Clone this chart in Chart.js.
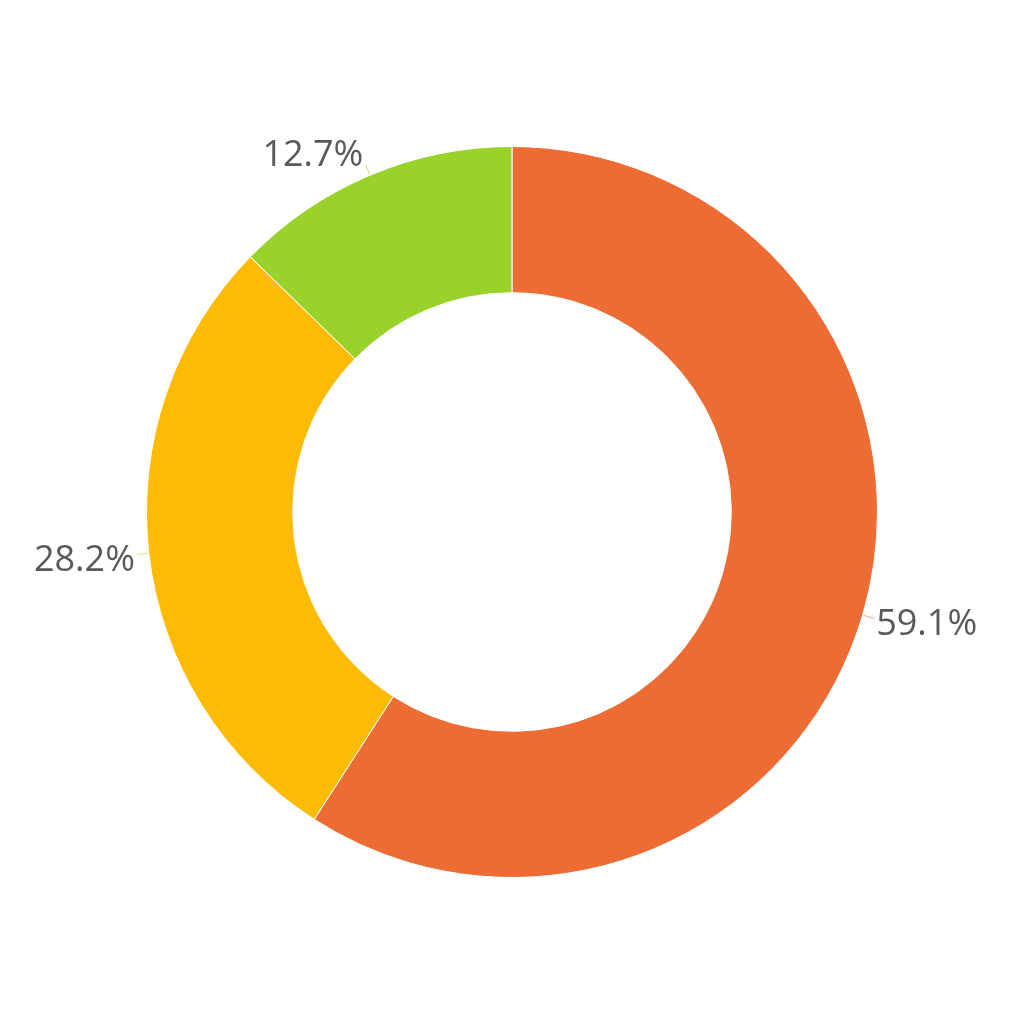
<!DOCTYPE html>
<html>
<head>
<meta charset="utf-8">
<script src="https://cdn.jsdelivr.net/npm/chart.js@4/dist/chart.umd.min.js"></script>
<style>
  body { margin: 0; background: #fff; }
</style>
</head>
<body>
<canvas id="donutChart" width="1024" height="1024"></canvas>
<script>
// Chart data
const sliceLabels = ['A', 'B', 'C'];
const sliceValues = [59.1, 28.2, 12.7];
const sliceColors = ['#ED6C34', '#FDBB06', '#98D22B'];

// Outside labels with short leader lines
const outsideLabels = {
    id: 'outsideLabels',
    afterDatasetsDraw(chart) {
        const ctx = chart.ctx;
        const meta = chart.getDatasetMeta(0);
        ctx.save();
        ctx.font = '36px "Open Sans", sans-serif';
        ctx.fillStyle = '#595959';
        ctx.textBaseline = 'middle';
        meta.data.forEach((arc, i) => {
            const p = arc.getProps(['x', 'y', 'startAngle', 'endAngle', 'outerRadius'], true);
            const mid = (p.startAngle + p.endAngle) / 2;
            const cos = Math.cos(mid), sin = Math.sin(mid);
            const x1 = p.x + cos * (p.outerRadius + 1);
            const y1 = p.y + sin * (p.outerRadius + 1);
            const x2 = p.x + cos * (p.outerRadius + 12);
            const y2 = p.y + sin * (p.outerRadius + 12);
            ctx.strokeStyle = sliceColors[i];
            ctx.globalAlpha = 0.6;
            ctx.lineWidth = 1;
            ctx.beginPath();
            ctx.moveTo(x1, y1);
            ctx.lineTo(x2, y2);
            ctx.stroke();
            ctx.globalAlpha = 1;
            const right = cos >= 0;
            ctx.textAlign = right ? 'left' : 'right';
            const txt = sliceValues[i].toFixed(1) + '%';
            ctx.fillText(txt, x2 + (right ? 2 : -2), y2 + (sin > 0 ? 6 : -8));
        });
        ctx.restore();
    }
};

const config = {
    type: 'doughnut',
    data: {
        labels: sliceLabels,
        datasets: [{
            data: sliceValues,
            backgroundColor: sliceColors,
            borderColor: '#ffffff',
            borderWidth: 1
        }]
    },
    options: {
        responsive: false,
        animation: false,
        cutout: '60%',
        layout: { padding: 146 },
        plugins: {
            legend: { display: false },
            tooltip: { enabled: false }
        }
    },
    plugins: [outsideLabels]
};

const ctx = document.getElementById('donutChart').getContext('2d');
new Chart(ctx, config);
</script>
</body>
</html>
